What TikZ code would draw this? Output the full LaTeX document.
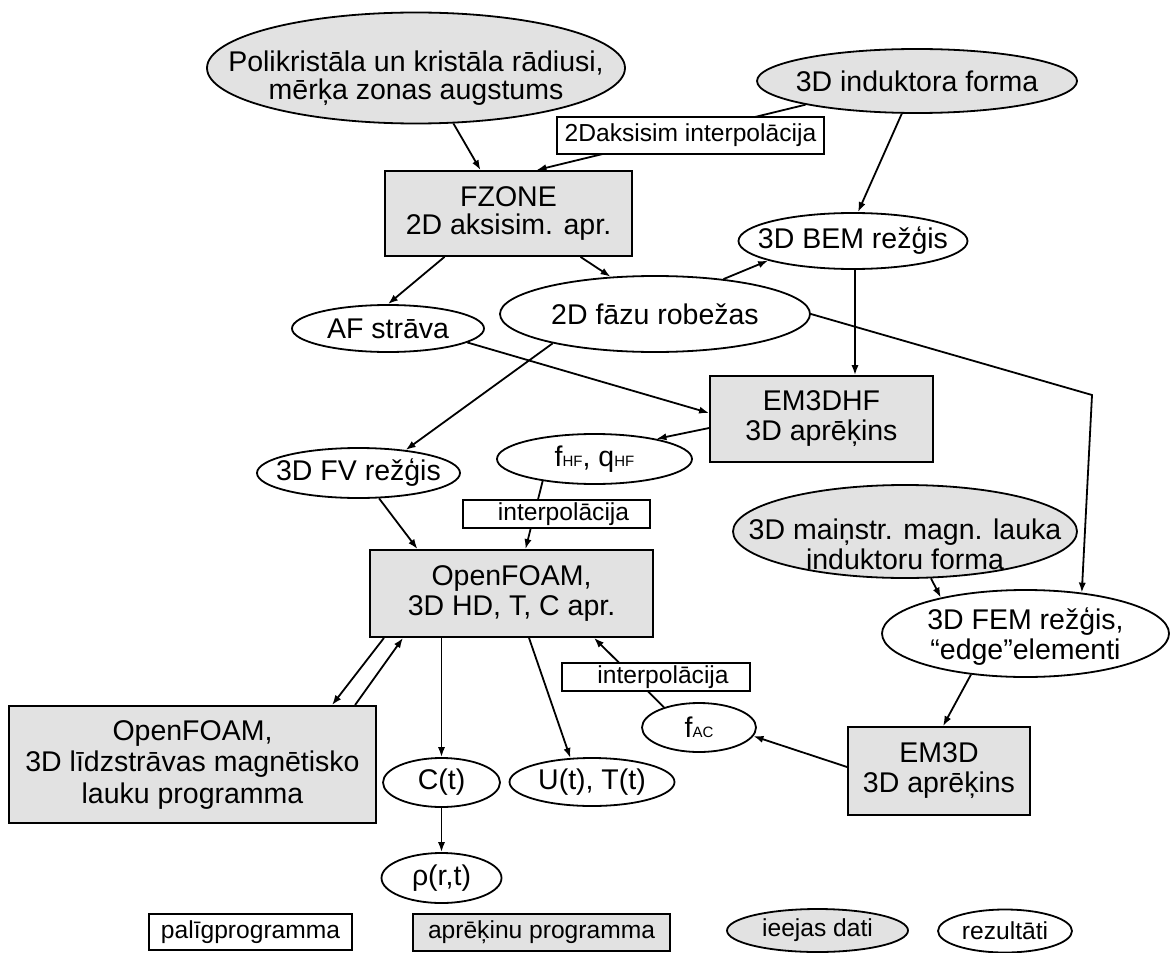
\documentclass[tikz,border=0pt]{standalone}
\usepackage{fontspec}
\setmainfont{Liberation Sans}
\usetikzlibrary{shapes.geometric}
\usetikzlibrary{arrows.meta}
\usetikzlibrary{calc}

\definecolor{fillgray}{RGB}{226,226,226}
\newcommand{\lowsub}[1]{{\fontsize{7.5pt}{7.5pt}\selectfont #1}}
\newcommand{\bigtxt}{\fontsize{14.25pt}{15pt}\selectfont}
\newcommand{\smalltxt}{\fontsize{12.3pt}{13pt}\selectfont}

\tikzset{
  inp/.style={ellipse, draw, fill=fillgray, inner sep=0pt},
  res/.style={ellipse, draw, fill=white, inner sep=0pt},
  calcbox/.style={rectangle, draw, fill=fillgray, align=center, inner sep=0pt},
  auxbox/.style={rectangle, draw, fill=white, inner sep=0pt, font=\smalltxt},
  arr/.style={-{Latex[length=5pt,width=3.6pt]}},
  every label/.style={align=center, inner sep=0pt},
}

\begin{document}
\begin{tikzpicture}[x=0.5pt, y=-0.5pt, line width=0.9pt, font=\bigtxt]
\useasboundingbox (0,0) rectangle (1171,952);

% input data
\node[inp, minimum width=209pt, minimum height=55.5pt, label={[font=\fontsize{14.25pt}{14pt}\selectfont, yshift=-5pt]center:{Polikristāla un kristāla rādiusi,\\mērķa zonas augstums}}] (poly) at (416,68) {};
\node[inp, minimum width=160pt, minimum height=32pt, label={center:3D induktora forma}] (ind) at (917,81) {};
\node[inp, minimum width=172pt, minimum height=46.5pt, label={[yshift=-6.5pt]center:{3D maiņstr. magn. lauka\\induktoru forma}}] (mainstr) at (905,531.5) {};

% programs
\node[calcbox, minimum width=123.5pt, minimum height=42.5pt, font=\fontsize{14.25pt}{14pt}\selectfont] (fzone) at (508.5,213.5) {FZONE\\2D aksisim. apr.};
\node[calcbox, minimum width=111.5pt, minimum height=43pt] (em3dhf) at (821.5,419) {EM3DHF\\3D aprēķins};
\node[calcbox, minimum width=141.5pt, minimum height=43.5pt] (ofoam) at (511.5,593.5) {OpenFOAM,\\3D HD, T, C apr.};
\node[calcbox, minimum width=183.5pt, minimum height=58.5pt, font=\fontsize{14.25pt}{15.75pt}\selectfont] (ofoam2) at (192.5,764.5) {OpenFOAM,\\3D līdzstrāvas magnētisko\\lauku programma};
\node[calcbox, minimum width=91pt, minimum height=44pt] (em3d) at (939,771) {EM3D\\3D aprēķins};

% results
\node[res, minimum width=114.5pt, minimum height=28pt, label={center:3D BEM režģis}] (bem) at (853,241) {};
\node[res, minimum width=155pt, minimum height=38pt, label={center:2D fāzu robežas}] (fazu) at (655,314) {};
\node[res, minimum width=96pt, minimum height=23.5pt, label={center:AF strāva}] (af) at (388,328.5) {};
\node[res, minimum width=101.5pt, minimum height=25pt, label={center:3D FV režģis}] (fv) at (358.5,473) {};
\node[res, minimum width=97.5pt, minimum height=25pt, label={center:{f\lowsub{HF}, q\lowsub{HF}}}] (fhf) at (594.5,459) {};
\node[res, minimum width=143.5pt, minimum height=43.5pt, label={[yshift=-1.5pt]center:{3D FEM režģis,\\“edge”elementi}}] (fem) at (1025.5,633.5) {};
\node[res, minimum width=57pt, minimum height=24.5pt, label={center:{f\lowsub{AC}}}] (fac) at (699,727.5) {};
\node[res, minimum width=58.5pt, minimum height=24.5pt, label={center:C(t)}] (ct) at (441.5,782.5) {};
\node[res, minimum width=82.5pt, minimum height=24pt, label={center:{U(t), T(t)}}] (ut) at (592,782) {};
\node[res, minimum width=60pt, minimum height=25pt, label={center:{ρ(r,t)}}] (rho) at (441.5,878) {};

% legend
\node[auxbox, minimum width=101.5pt, minimum height=18pt] (lgaux) at (250.5,932) {palīgprogramma};
\node[calcbox, font=\smalltxt, minimum width=128.5pt, minimum height=18.5pt] (lgcalc) at (541.5,932.5) {aprēķinu programma};
\node[inp, minimum width=90.5pt, minimum height=21.5pt, label={[font=\smalltxt]center:ieejas dati}] (lginp) at (817.5,930.5) {};
\node[res, minimum width=67pt, minimum height=21.5pt, label={[font=\smalltxt]center:rezultāti}] (lgres) at (1005,931) {};

% connectors
\draw[arr] (poly.304) -- ([xshift=-14pt]fzone.north);
\draw[arr] (ind.192) -- ([xshift=14pt]fzone.north);
\draw[arr] (ind.245) -- ([xshift=2.5pt]bem.north);
\draw[arr] ([xshift=-32pt]fzone.south) -- (af.north);
\draw[arr] ([xshift=36pt]fzone.south) -- (fazu.140);
\draw[arr] (fazu.27) -- (bem.193);
\draw[arr] ([xshift=1pt]bem.south) -- ([xshift=1pt]bem.south |- em3dhf.north);
\draw[arr] (af.350) -- ([yshift=3pt]em3dhf.west);
\draw[arr] ([yshift=-4.5pt]em3dhf.west) -- (fhf.18);
\draw[arr] (fazu.196) -- (fv.26);
\draw[arr] (fv.309) -- ([xshift=-47pt]ofoam.north);
\draw[arr] (fhf.203) -- ([xshift=7pt]ofoam.north);
\draw[arr] ([xshift=-63.75pt]ofoam.south) -- ([xshift=69.75pt]ofoam2.north);
\draw[arr] ([xshift=81.25pt]ofoam2.north) -- ([xshift=-54.25pt]ofoam.south);
\draw[arr] (ct.north |- ofoam.south) -- (ct.north);
\draw[arr] (ct.south) -- (rho.north);
\draw[arr] ([xshift=8.75pt]ofoam.south) -- (ut.132);
\draw[arr] (fac.150) -- ([xshift=41.25pt]ofoam.south);
\draw[arr] ([yshift=2pt]em3d.west) -- (fac.351);
\draw[arr] (fem.217) -- ([xshift=2pt]em3d.north);
\draw[arr] (mainstr.299) -- (fem.157);
\coordinate (bend) at (1092,395);
\draw[arr] (fazu.east) -- (bend) -- (fem.36);

% interpolation boxes on top of the lines
\node[auxbox, minimum width=133.5pt, minimum height=18.5pt] (ipol1) at (690.5,135.5) {2Daksisim interpolācija};
\node[auxbox, minimum width=93.5pt, minimum height=14pt] (ipol2) at (556.5,514) {\hspace*{7pt}interpolācija};
\node[auxbox, minimum width=94pt, minimum height=14pt] (ipol3) at (656,677) {\hspace*{7pt}interpolācija};

\end{tikzpicture}
\end{document}
